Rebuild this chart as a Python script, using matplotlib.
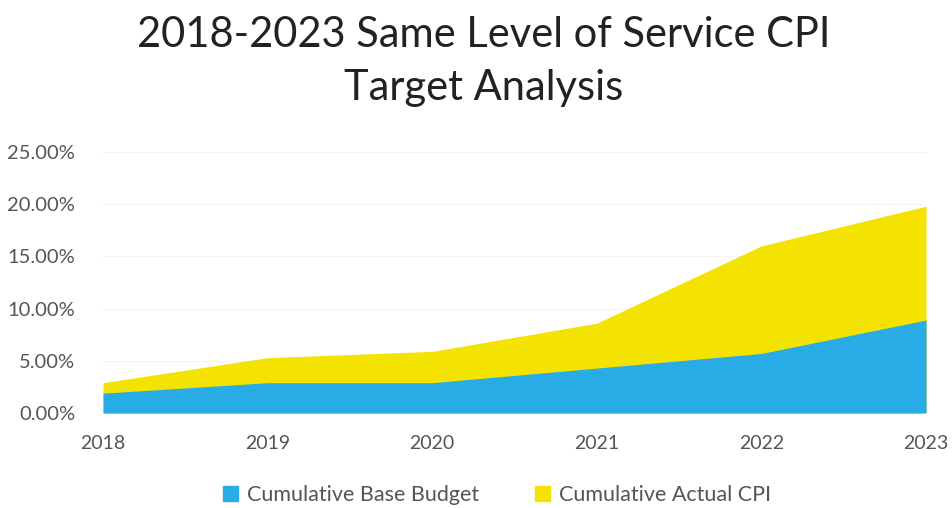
import matplotlib.pyplot as plt
from matplotlib.patches import Patch
from matplotlib.ticker import FuncFormatter

years = [2018, 2019, 2020, 2021, 2022, 2023]
base_budget = [1.9, 2.9, 2.9, 4.3, 5.7, 8.9]     # cumulative base budget, %
actual_cpi = [2.9, 5.3, 5.9, 8.6, 16.0, 19.8]    # cumulative actual CPI, %

blue = '#29ABE6'
yellow = '#F4E300'
grey = '#555555'

plt.rcParams['font.family'] = ['Lato', 'DejaVu Sans']

fig = plt.figure(figsize=(9.52, 5.08), dpi=100)
ax = fig.add_axes([0.1082, 0.187, 0.8645, 0.514])

# actual CPI sits behind the base budget area (overlapping, not stacked)
ax.fill_between(years, 0, actual_cpi, color=yellow, linewidth=0)
ax.fill_between(years, 0, base_budget, color=blue, linewidth=0)

ax.set_xlim(years[0], years[-1])
ax.set_ylim(0, 25)
ax.set_yticks([0, 5, 10, 15, 20, 25])
ax.yaxis.set_major_formatter(FuncFormatter(lambda v, p: f'{v:.2f}%'))
ax.set_xticks(years)
ax.grid(axis='y', color='#f3f3f3', linewidth=0.8)
ax.set_axisbelow(True)

for s in ax.spines.values():
    s.set_visible(False)
ax.tick_params(length=0, colors=grey)
ax.tick_params(axis='x', pad=16, labelsize=14)
ax.tick_params(axis='y', pad=20, labelsize=14.5)

fig.text(0.508, 0.931, '2018-2023 Same Level of Service CPI',
         ha='center', va='center', fontsize=30, color='#222222')
fig.text(0.508, 0.827, 'Target Analysis',
         ha='center', va='center', fontsize=30, color='#222222')

handles = [Patch(color=blue, label='Cumulative Base Budget'),
           Patch(color=yellow, label='Cumulative Actual CPI')]
fig.legend(handles=handles, loc='center', bbox_to_anchor=(0.522, 0.026), ncol=2,
           frameon=False, fontsize=15.5, handlelength=0.7, handleheight=0.7,
           handletextpad=0.4, columnspacing=2.6, labelcolor=grey)

fig.savefig('out.png', dpi=100, facecolor='white')
